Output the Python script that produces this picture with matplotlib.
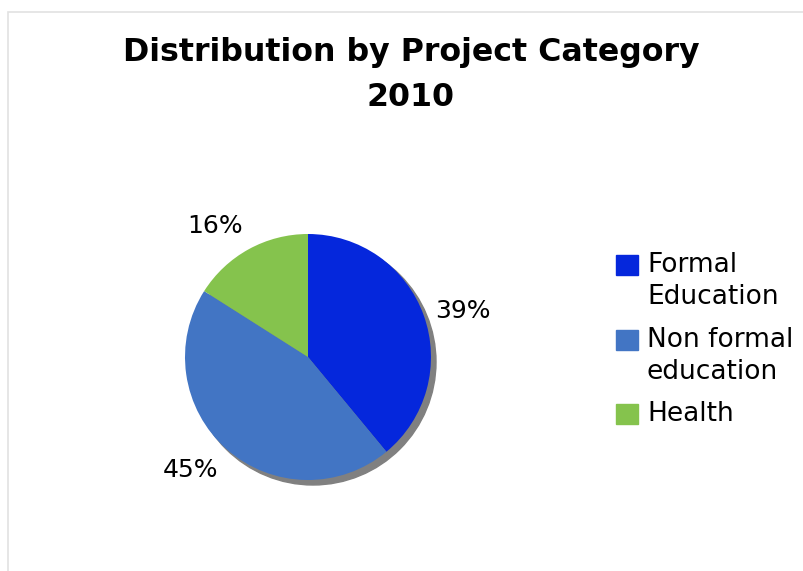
import numpy as np
import matplotlib.pyplot as plt
from matplotlib.patches import Circle, Rectangle

categories = ["Formal\nEducation", "Non formal\neducation", "Health"]
shares = [39, 45, 16]
colors = ["#0527dc", "#4275c4", "#85c34d"]
title = "Distribution by Project Category\n2010"

W, H = 804, 571
fig = plt.figure(figsize=(W / 100, H / 100), dpi=100)
ax = fig.add_axes([0, 0, 1, 1])

# light frame around the chart area
ax.add_patch(Rectangle((8, -5), W, H - 12 + 5, fill=False, edgecolor="#e2e2e2", lw=1.2))

cx, cy, r = 308, H - 357, 123
ax.add_patch(Circle((cx + 5, cy - 5), r, color="#808080", zorder=1))

pct_labels = [f"{s}%" for s in shares]
wedges, texts = ax.pie(shares, colors=colors, startangle=90, counterclock=False,
                       center=(cx, cy), radius=r, labels=pct_labels, labeldistance=1.1,
                       textprops={"fontsize": 18}, frame=True)
for w in wedges:
    w.set_zorder(2)
for w, t in zip(wedges, texts):
    ang = np.deg2rad((w.theta1 + w.theta2) / 2)
    t.set_ha("left" if np.cos(ang) > 0 else "right")
    s = np.sin(ang)
    if s > 0.5:
        t.set_va("bottom")
    elif s < -0.5:
        t.set_va("top")

ax.set_xlim(0, W)
ax.set_ylim(0, H)
ax.set_aspect("equal")
ax.axis("off")

fig.text(411 / W, 1 - 75 / H, title, ha="center", va="center", fontsize=22.8,
         fontweight="bold", linespacing=1.6)

# legend drawn by hand so the swatch lines up with the first text line
leg_y = [265, 340, 414]
for lab, col, y in zip(categories, colors, leg_y):
    ax.add_patch(Rectangle((616, H - y - 10), 22, 20, color=col))
    ax.text(647, H - y + 13, lab, ha="left", va="top", fontsize=19, linespacing=1.3)

fig.savefig("out.png", dpi=100)
